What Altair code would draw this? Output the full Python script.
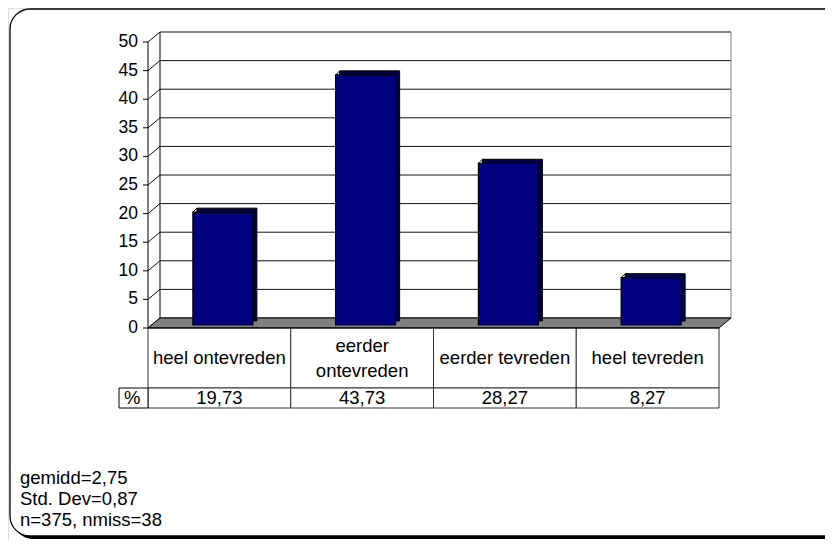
import altair as alt
import pandas as pd

# ---- data ----
categories = ["heel ontevreden", "eerder ontevreden", "eerder tevreden", "heel tevreden"]
table_labels = ["heel ontevreden", "eerder\nontevreden", "eerder tevreden", "heel tevreden"]
percentages = [19.73, 43.73, 28.27, 8.27]
y_ticks = [0, 5, 10, 15, 20, 25, 30, 35, 40, 45, 50]
row_label = ["%"]
stats_lines = ["gemidd=2,75", "Std. Dev=0,87", "n=375, nmiss=38"]

# ---- layout constants (pixels, view coordinates) ----
W, H = 817, 532
FRAME_BOTTOM = 528
X0, X1 = 140, 711          # front plot left/right
Y0, Y50 = 320, 34          # front plot y of 0 and 50
DX, DY = 12, 10            # 3D depth of the walls
BX, BY = 4, 4              # 3D depth of the bars
BSHIFT, BDOWN = 3.5, 3     # bar placement inside depth
BW = 60                    # bar width
ROW1, ROW2 = 60, 20        # table row heights
LH = 25                    # table line height
FONT = "Liberation Sans"
FS = 18.5
TFS = 17.5

df = pd.DataFrame({"cat": categories, "label": table_labels, "v": percentages,
                   "n": [s.count("\n") + 1 for s in table_labels]})
ticks_df = pd.DataFrame({"t": y_ticks})
one = pd.DataFrame({"k": [0]})

xs = alt.Scale(domain=categories, range=[X0, X1], paddingInner=0, paddingOuter=0)
ys = alt.Scale(domain=[0, 50], range=[Y0, Y50], nice=False, zero=False)

# frame with shadow
shadow = alt.Chart(one).mark_rect(cornerRadius=20, fill="black").encode(
    x=alt.value(5), x2=alt.value(W + 60), y=alt.value(4), y2=alt.value(FRAME_BOTTOM + 3))
frame = alt.Chart(one).mark_rect(cornerRadius=20, fill="white", stroke="black", strokeWidth=1.3).encode(
    x=alt.value(2), x2=alt.value(W + 60), y=alt.value(1), y2=alt.value(FRAME_BOTTOM))

# back wall gridlines
back_grid = alt.Chart(ticks_df).mark_rule(color="#111111", strokeWidth=1, yOffset=-DY).encode(
    y=alt.Y("t:Q", scale=ys, axis=None), x=alt.value(X0 + DX), x2=alt.value(X1 + DX))
# side wall lines
side_grid = alt.Chart(ticks_df).mark_rule(color="#111111", strokeWidth=1, y2Offset=-DY).encode(
    y=alt.Y("t:Q", scale=ys, axis=None), y2="t:Q", x=alt.value(X0), x2=alt.value(X0 + DX))
wall_left = alt.Chart(one).mark_rule(color="black", yOffset=-DY, y2Offset=-DY).encode(
    x=alt.value(X0 + DX), y=alt.YDatum(0, scale=ys, axis=None), y2=alt.Y2Datum(50))
wall_right = alt.Chart(one).mark_rule(color="#808080", yOffset=-DY, y2Offset=-DY).encode(
    x=alt.value(X1 + DX), y=alt.YDatum(0, scale=ys, axis=None), y2=alt.Y2Datum(50))

# front value axis (domain, ticks, labels)
axis_line = alt.Chart(one).mark_rule(color="black").encode(
    x=alt.value(X0), y=alt.YDatum(0, scale=ys, axis=None), y2=alt.Y2Datum(50))
axis_ticks = alt.Chart(ticks_df).mark_rule(color="black").encode(
    y=alt.Y("t:Q", scale=ys, axis=None), x=alt.value(X0 - 5), x2=alt.value(X0))
axis_labels = alt.Chart(ticks_df).mark_text(font=FONT, fontSize=TFS, align="right",
                                            baseline="middle", color="black").encode(
    y=alt.Y("t:Q", scale=ys, axis=None), x=alt.value(X0 - 10), text="t:Q")

# floor
floor_path = f"M0,0 L{X1 - X0},0 L{X1 - X0 + DX},{-DY} L{DX},{-DY} Z"
floor = alt.Chart(one).mark_point(shape=floor_path, size=4, filled=True, fill="#808080",
                                  stroke="black", strokeWidth=1, opacity=1).encode(
    x=alt.value(X0), y=alt.YDatum(0, scale=ys, axis=None))

# bars
bars_depth = alt.Chart(df).mark_bar(width=BW, xOffset=BSHIFT + BX, yOffset=-BDOWN - BY,
                                    y2Offset=-BDOWN - BY, fill="#000048", stroke="black",
                                    strokeWidth=1).encode(
    x=alt.X("cat:N", scale=xs, axis=None, sort=categories),
    y=alt.Y("v:Q", scale=ys, axis=None), y2=alt.Y2Datum(0))
bars = alt.Chart(df).mark_bar(width=BW, xOffset=BSHIFT, yOffset=-BDOWN, y2Offset=-BDOWN,
                              fill="#000080", stroke="black", strokeWidth=1.2).encode(
    x=alt.X("cat:N", scale=xs, axis=None, sort=categories),
    y=alt.Y("v:Q", scale=ys, axis=None), y2=alt.Y2Datum(0))
corner = alt.Chart(df).mark_rule(color="black", xOffset=BSHIFT - BW / 2,
                                 x2Offset=BSHIFT - BW / 2 + BX, yOffset=-BDOWN,
                                 y2Offset=-BDOWN - BY).encode(
    x=alt.X("cat:N", scale=xs, axis=None, bandPosition=0.5),
    x2=alt.X2("cat:N", bandPosition=0.5),
    y=alt.Y("v:Q", scale=ys, axis=None), y2="v:Q")

# data table
cells1 = alt.Chart(df).mark_rect(fill="white", stroke="#333333", strokeWidth=1).encode(
    x=alt.X("cat:N", scale=xs, axis=None), y=alt.value(Y0), y2=alt.value(Y0 + ROW1))
cells2 = alt.Chart(df).mark_rect(fill="white", stroke="#333333", strokeWidth=1).encode(
    x=alt.X("cat:N", scale=xs, axis=None), y=alt.value(Y0 + ROW1), y2=alt.value(Y0 + ROW1 + ROW2))
pct_cell = alt.Chart(one).mark_rect(fill="white", stroke="black", strokeWidth=1).encode(
    x=alt.value(X0 - 29), x2=alt.value(X0), y=alt.value(Y0 + ROW1), y2=alt.value(Y0 + ROW1 + ROW2))
floor_edge = alt.Chart(one).mark_rule(color="black").encode(
    x=alt.value(X0), x2=alt.value(X1), y=alt.YDatum(0, scale=ys, axis=None))

cat_text1 = alt.Chart(df).transform_filter("datum.n == 1").mark_text(
    font=FONT, fontSize=FS, baseline="middle", color="black").encode(
    x=alt.X("cat:N", scale=xs, axis=None), y=alt.value(Y0 + ROW1 / 2), text="label:N")
cat_text2 = alt.Chart(df).transform_filter("datum.n == 2").mark_text(
    font=FONT, fontSize=FS, lineBreak="\n", lineHeight=LH, baseline="middle", color="black",
    yOffset=-LH / 2).encode(
    x=alt.X("cat:N", scale=xs, axis=None), y=alt.value(Y0 + ROW1 / 2), text="label:N")
val_text = alt.Chart(df).transform_calculate(
    lab="replace(format(datum.v, '.2f'), '.', ',')"
).mark_text(font=FONT, fontSize=FS, baseline="middle", color="black").encode(
    x=alt.X("cat:N", scale=xs, axis=None), y=alt.value(Y0 + ROW1 + ROW2 / 2), text="lab:N")
pct_text = alt.Chart(pd.DataFrame({"r": row_label})).mark_text(
    font=FONT, fontSize=FS, baseline="middle", align="left", color="black").encode(
    x=alt.value(X0 - 24), y=alt.value(Y0 + ROW1 + ROW2 / 2), text="r:N")

stats = alt.Chart(pd.DataFrame({"s": ["\n".join(stats_lines)]})).mark_text(
    font=FONT, fontSize=FS, lineBreak="\n", lineHeight=21, align="left", baseline="middle",
    color="black").encode(x=alt.value(12), y=alt.value(470), text="s:N")

chart = alt.layer(
    shadow, frame, back_grid, side_grid, wall_left, wall_right, floor,
    bars_depth, bars, corner, cells1, cells2, pct_cell, floor_edge,
    axis_line, axis_ticks, axis_labels,
    cat_text1, cat_text2, val_text, pct_text, stats
).properties(
    width=W, height=H, autosize=alt.AutoSizeParams(type="none"), padding=0
).configure_view(stroke=None).configure(background="white")

chart.save("out.html", embed_options={"renderer": "svg", "actions": False})
